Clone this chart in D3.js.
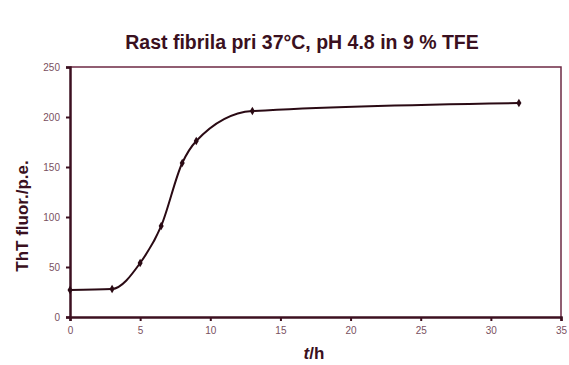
<!DOCTYPE html>
<html><head><meta charset="utf-8">
<script src="https://cdn.jsdelivr.net/npm/d3@7"></script>
<style>body{margin:0;background:#fff}svg{display:block}</style>
</head><body>
<svg id="c" width="569" height="365"></svg>
<script>
const timeH = [0, 3, 5, 6.5, 8, 9, 13, 32];
const fluor = [27, 28, 54, 91, 154, 176, 206, 214];
const xTicks = [0, 5, 10, 15, 20, 25, 30, 35];
const yTicks = [0, 50, 100, 150, 200, 250];
const title = "Rast fibrila pri 37°C, pH 4.8 in 9 % TFE";

const svg = d3.select("#c");
const m = {l: 70, r: 8, t: 67, b: 48};
const W = 569, H = 365;
const x = d3.scaleLinear().domain([0, 35]).range([m.l, W - m.r]);
const y = d3.scaleLinear().domain([0, 250]).range([H - m.b, m.t]);
const dark = "#3d1020", frame = "#6e2a44", tickCol = "#7a5060";

svg.append("text").attr("x", 302).attr("y", 49).attr("text-anchor", "middle")
  .attr("font-family", "Liberation Sans, Arial, sans-serif").attr("font-weight", "bold")
  .attr("font-size", 19.5).attr("fill", "#3a1020").text(title);

// frame top & right
svg.append("path").attr("d", `M${x(0)},${y(250)}H${x(35)}V${y(0)}`)
  .attr("fill", "none").attr("stroke", frame).attr("stroke-width", 1.5);

const xa = svg.append("g").attr("transform", `translate(0,${y(0)})`)
  .call(d3.axisBottom(x).tickValues(xTicks).tickSize(4).tickPadding(6));
const ya = svg.append("g").attr("transform", `translate(${x(0)},0)`)
  .call(d3.axisLeft(y).tickValues(yTicks).tickSize(4).tickPadding(6));
[xa, ya].forEach(g => {
  g.select(".domain").attr("stroke", dark).attr("stroke-width", 2.5);
  g.selectAll(".tick line").attr("stroke", dark).attr("stroke-width", 2);
  g.selectAll(".tick text").attr("fill", tickCol).attr("font-size", 10)
    .attr("font-family", "Liberation Sans, Arial, sans-serif");
});

const line = d3.line().x((d, i) => x(timeH[i])).y(d => y(d)).curve(d3.curveMonotoneX);
svg.append("path").datum(fluor).attr("d", line).attr("fill", "none")
  .attr("stroke", "#2a0a14").attr("stroke-width", 2);
svg.selectAll("path.mk").data(fluor).join("path").attr("class", "mk")
  .attr("transform", (d, i) => `translate(${x(timeH[i])},${y(d)})`)
  .attr("d", d3.symbol(d3.symbolDiamond, 22)).attr("fill", "#2a0a14");

svg.append("text").attr("transform", "translate(28,216) rotate(-90)")
  .attr("text-anchor", "middle").attr("font-family", "Liberation Sans, Arial, sans-serif")
  .attr("font-weight", "bold").attr("font-size", 17).attr("fill", "#3a1020")
  .text("ThT fluor./p.e.");

const xl = svg.append("text").attr("x", 314).attr("y", 359).attr("text-anchor", "middle")
  .attr("font-family", "Liberation Sans, Arial, sans-serif").attr("font-weight", "bold")
  .attr("font-size", 17).attr("fill", "#3a1020");
xl.append("tspan").attr("font-style", "italic").text("t");
xl.append("tspan").text("/h");
</script>
</body></html>
